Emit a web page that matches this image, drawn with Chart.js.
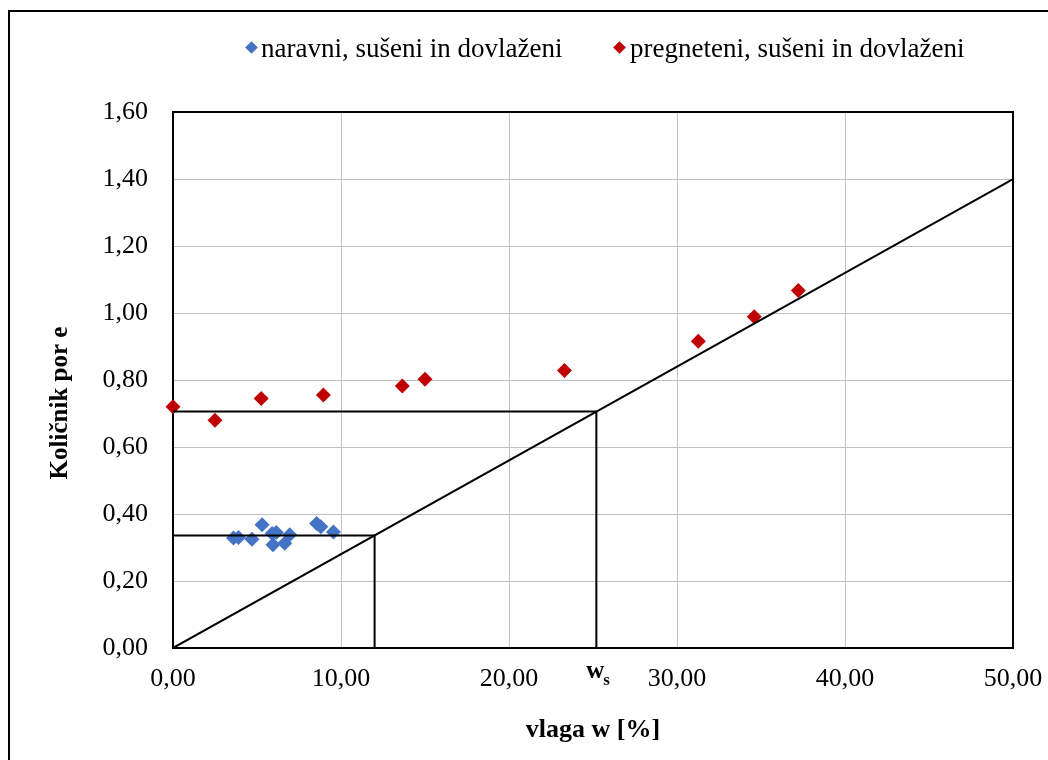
<!DOCTYPE html>
<html>
<head>
<meta charset="utf-8">
<title>Količnik por e</title>
<script src="https://cdn.jsdelivr.net/npm/chart.js@4.4.0/dist/chart.umd.min.js"></script>
<style>
    html, body { margin: 0; padding: 0; background: #fff; overflow: hidden; }
    #wrap { position: relative; width: 1048px; height: 760px; overflow: hidden; }
    #frame { position: absolute; left: 8px; top: 10px; width: 1100px; height: 800px; border: 2px solid #000; }
    #chart { position: absolute; left: 0; top: 0; }
    .mark { position: absolute; width: 9px; height: 9px; transform: rotate(45deg); }
    .legtext { position: absolute; top: 35px; font-family: 'Liberation Serif', 'Times New Roman', serif; font-size: 27px; line-height: 27px; color: #000; white-space: nowrap; }
</style>
</head>
<body>
<div id="wrap">
    <div id="frame"></div>
    <canvas id="chart" width="1048" height="760"></canvas>
    <!-- legenda -->
    <div class="mark" style="left:247px; top:43px; background:#4472C4;"></div>
    <div class="legtext" style="left:261px;">naravni, sušeni in dovlaženi</div>
    <div class="mark" style="left:615px; top:43px; background:#C00000;"></div>
    <div class="legtext" style="left:630px;">pregneteni, sušeni in dovlaženi</div>
</div>
<script>
// podatki: naravni, sušeni in dovlaženi
const naravniW = [3.6, 3.9, 4.7, 5.3, 5.9, 6.15, 5.95, 6.65, 6.95, 8.55, 8.8, 9.55];
const naravniE = [0.328, 0.330, 0.325, 0.368, 0.342, 0.345, 0.308, 0.313, 0.338, 0.372, 0.362, 0.346];

// podatki: pregneteni, sušeni in dovlaženi
const pregnW = [0.0, 2.5, 5.25, 8.95, 13.65, 15.0, 23.3, 31.27, 34.6, 37.22];
const pregnE = [0.720, 0.680, 0.745, 0.755, 0.782, 0.802, 0.828, 0.916, 0.989, 1.067];

// premica nasičenja in konstrukcijske črte
const lineW = [0, 50];
const lineE = [0, 1.40];
const guide1W = [0, 12, 12];
const guide1E = [0.336, 0.336, 0];
const wsValue = 25.2;
const guide2W = [0, wsValue, wsValue];
const guide2E = [0.706, 0.706, 0];

// osi
const xTickValues = [0, 10, 20, 30, 40, 50];
const xTickLabels = ['0,00', '10,00', '20,00', '30,00', '40,00', '50,00'];
const yTickValues = [0, 0.2, 0.4, 0.6, 0.8, 1.0, 1.2, 1.4, 1.6];
const yTickLabels = ['0,00', '0,20', '0,40', '0,60', '0,80', '1,00', '1,20', '1,40', '1,60'];

const serif = "'Liberation Serif', 'Times New Roman', serif";

function toPoints(xs, ys) {
    return xs.map((x, i) => ({ x: x, y: ys[i] }));
}

function lineSet(xs, ys) {
    return {
        data: toPoints(xs, ys),
        showLine: true,
        borderColor: '#000',
        borderWidth: 2,
        pointRadius: 0,
        order: 0
    };
}

// okvir risalne površine
const areaBorder = {
    id: 'areaBorder',
    beforeDatasetsDraw(chart) {
        const a = chart.chartArea;
        const ctx = chart.ctx;
        ctx.save();
        ctx.strokeStyle = '#000';
        ctx.lineWidth = 2;
        ctx.strokeRect(a.left, a.top, a.right - a.left, a.bottom - a.top);
        ctx.restore();
    }
};

// naslov osi y in oznaka ws
const extraText = {
    id: 'extraText',
    afterDraw(chart) {
        const ctx = chart.ctx;
        const xs = chart.scales.x;
        ctx.save();
        ctx.fillStyle = '#000';
        ctx.translate(61, 403);
        ctx.rotate(-Math.PI / 2);
        ctx.font = 'bold 25px ' + serif;
        ctx.textAlign = 'center';
        ctx.textBaseline = 'middle';
        ctx.fillText('Količnik por e', 0, 0);
        ctx.restore();

        ctx.save();
        ctx.fillStyle = '#000';
        const px = xs.getPixelForValue(wsValue);
        ctx.font = 'bold 25px ' + serif;
        ctx.textAlign = 'center';
        ctx.textBaseline = 'alphabetic';
        ctx.fillText('w', px - 1, 678);
        ctx.font = 'bold 17px ' + serif;
        ctx.textAlign = 'left';
        ctx.fillText('s', px + 7, 685);
        ctx.restore();
    }
};

const ctx = document.getElementById('chart').getContext('2d');
new Chart(ctx, {
    type: 'scatter',
    data: {
        datasets: [
            lineSet(lineW, lineE),
            lineSet(guide1W, guide1E),
            lineSet(guide2W, guide2E),
            {
                label: 'naravni, sušeni in dovlaženi',
                data: toPoints(naravniW, naravniE),
                pointStyle: 'rectRot',
                pointRadius: 7.5,
                backgroundColor: '#4472C4',
                borderWidth: 0,
                clip: false,
                order: 1
            },
            {
                label: 'pregneteni, sušeni in dovlaženi',
                data: toPoints(pregnW, pregnE),
                pointStyle: 'rectRot',
                pointRadius: 7.5,
                backgroundColor: '#C00000',
                borderWidth: 0,
                clip: false,
                order: 1
            }
        ]
    },
    options: {
        responsive: false,
        animation: false,
        layout: { padding: { top: 112, right: 35, left: 0, bottom: 0 } },
        plugins: {
            legend: { display: false },
            tooltip: { enabled: false }
        },
        scales: {
            x: {
                type: 'linear',
                min: 0,
                max: 50,
                afterBuildTicks: (s) => { s.ticks = xTickValues.map(v => ({ value: v })); },
                afterFit: (s) => { s.height = 112; s.paddingLeft = 0; s.paddingRight = 0; },
                ticks: {
                    padding: 16,
                    color: '#000',
                    font: { family: serif, size: 26 },
                    maxRotation: 0,
                    callback: (v, i) => xTickLabels[i]
                },
                grid: { color: '#c0c0c0', lineWidth: 1, drawTicks: false },
                border: { display: false },
                title: {
                    display: true,
                    text: 'vlaga w [%]',
                    color: '#000',
                    font: { family: serif, size: 26, weight: 'bold' },
                    padding: { top: 0, bottom: 14 }
                }
            },
            y: {
                type: 'linear',
                min: 0,
                max: 1.6,
                afterBuildTicks: (s) => { s.ticks = yTickValues.map(v => ({ value: v })); },
                afterFit: (s) => { s.width = 173; s.paddingTop = 0; s.paddingBottom = 0; },
                ticks: {
                    padding: 25,
                    color: '#000',
                    font: { family: serif, size: 26 },
                    callback: (v, i) => yTickLabels[i]
                },
                grid: { color: '#c0c0c0', lineWidth: 1, drawTicks: false },
                border: { display: false }
            }
        }
    },
    plugins: [areaBorder, extraText]
});
</script>
</body>
</html>
